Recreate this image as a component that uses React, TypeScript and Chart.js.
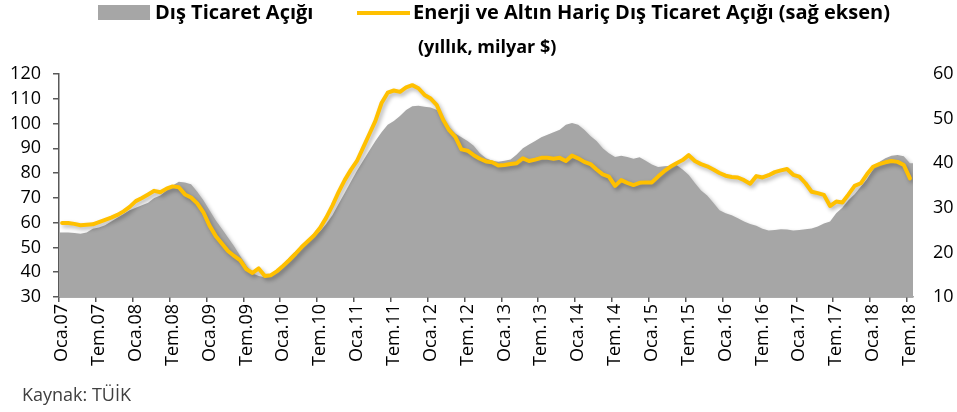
import React, { useEffect, useRef } from "react";
import { Chart, registerables } from "chart.js";

Chart.register(...registerables);

// Monthly data, Oca.07 (Jan 2007) .. Tem.18 (Jul 2018)
const MONTH_NAMES = ["Oca", "Şub", "Mar", "Nis", "May", "Haz", "Tem", "Ağu", "Eyl", "Eki", "Kas", "Ara"];
const START_YEAR = 2007;

// Dış Ticaret Açığı (left axis, yıllık milyar $)
const tradeDeficit = [
  56, 56, 55.8, 55.5, 56, 57.5, 58, 59, 60.5, 62, 63.5, 65,
  66, 67, 68, 70, 71, 73, 75, 76.5, 76.2, 75.5, 72.5, 69,
  65, 61, 57.5, 54, 50.5, 46.5, 42.5, 39.5, 38.5, 38, 38.5, 40.5,
  43, 46, 48.5, 51, 53, 54.5, 56.5, 59.5, 63, 67.5, 72, 76.5,
  81, 85, 89, 93, 96.5, 99.5, 101, 103, 105.5, 107, 107.2, 106.8,
  106.5, 105.5, 101.5, 98.5, 96, 94.5, 93, 91, 88, 86, 85, 84.6,
  85, 85.5, 87.5, 90, 91.5, 93, 94.5, 95.5, 96.5, 97.5, 99.5, 100.2,
  99.5, 97.5, 95, 93, 90, 88, 86.5, 87, 86.5, 85.8, 86.4, 85,
  83.5, 82.5, 82.8, 83, 83.3, 81.5, 79.2, 76, 73, 71, 68, 65,
  63.8, 63, 61.8, 60.5, 59.5, 58.8, 57.5, 56.8, 57, 57.3, 57.2, 56.8,
  57, 57.3, 57.6, 58.5, 59.7, 60.5, 63.8, 66, 69, 71.5, 74.5, 77.5,
  81.5, 84.5, 86, 87, 87.3, 86.8, 84,
];

// Enerji ve Altın Hariç Dış Ticaret Açığı (right axis)
const coreDeficit = [
  26.6, 26.6, 26.4, 26.1, 26.2, 26.3, 26.8, 27.3, 27.8, 28.4, 29.2, 30.2,
  31.5, 32.2, 33, 33.8, 33.5, 34.3, 34.8, 34.6, 33, 32.3, 31, 29,
  26, 23.7, 22, 20.3, 19.2, 18.2, 16.2, 15.4, 16.4, 14.7, 14.9, 15.8,
  17, 18.3, 19.7, 21.2, 22.5, 23.8, 25.5, 27.8, 30.5, 33.5, 36.2, 38.5,
  40.5, 43.5, 46.5, 49.5, 53.5, 55.8, 56.3, 56, 57, 57.5, 56.8, 55.3,
  54.5, 53, 49.8, 47.4, 45.9, 43.1, 42.8, 41.8, 41, 40.4, 40.2, 39.5,
  39.6, 39.8, 40, 41.1, 40.5, 40.8, 41.2, 41.2, 41, 41.2, 40.5, 41.7,
  41.1, 40.3, 39.8, 38.6, 37.5, 37, 34.9, 36.2, 35.6, 35.1, 35.6, 35.7,
  35.7, 37, 38.2, 39.2, 40, 40.7, 41.8, 40.5, 39.8, 39.3, 38.6, 37.8,
  37.2, 36.9, 36.8, 36.2, 35.4, 37.1, 36.8, 37.3, 38, 38.4, 38.7, 37.4,
  37, 35.5, 33.6, 33.3, 32.9, 30.4, 31.4, 31.2, 33, 34.9, 35.5, 37.5,
  39.2, 39.8, 40.2, 40.5, 40.3, 39.6, 36.6,
];

const categories = tradeDeficit.map(
  (_, i) => `${MONTH_NAMES[i % 12]}.${String((START_YEAR + Math.floor(i / 12)) % 100).padStart(2, "0")}`
);

const leftTicks = { min: 30, max: 120, step: 10 };
const rightTicks = { min: 10, max: 60, step: 10 };
const LABEL_EVERY = 6;

const GREY = "#a6a6a6";
const GOLD = "#ffc000";
const AXIS = "#595959";
const FONT = "'Open Sans', 'DejaVu Sans', sans-serif";

const shadowPlugin = {
  id: "softShadow",
  beforeDatasetsDraw(chart: any) {
    const ctx = chart.ctx;
    ctx.save();
    ctx.shadowColor = "rgba(0,0,0,0.3)";
    ctx.shadowBlur = 4;
    ctx.shadowOffsetX = 2;
    ctx.shadowOffsetY = 2.5;
  },
  afterDatasetsDraw(chart: any) {
    chart.ctx.restore();
  },
};

function ChartCanvas() {
  const ref = useRef<HTMLCanvasElement | null>(null);

  useEffect(() => {
    if (!ref.current) return;
    const n = categories.length;
    const areaPoints = [
      { x: -0.5, y: tradeDeficit[0] },
      ...tradeDeficit.map((v, i) => ({ x: i, y: v })),
      { x: n - 0.5, y: tradeDeficit[n - 1] },
    ];
    const linePoints = coreDeficit.map((v, i) => ({ x: i, y: v }));
    const tickFont = { family: FONT, size: 18 };

    const chart = new Chart(ref.current, {
      type: "line",
      data: {
        labels: categories,
        datasets: [
          {
            label: "Enerji ve Altın Hariç Dış Ticaret Açığı (sağ eksen)",
            data: linePoints as any,
            xAxisID: "xl",
            yAxisID: "y1",
            borderColor: GOLD,
            borderWidth: 4,
            pointRadius: 0,
            fill: false,
            tension: 0,
            borderJoinStyle: "round",
            borderCapStyle: "round",
          },
          {
            label: "Dış Ticaret Açığı",
            data: areaPoints as any,
            xAxisID: "xl",
            yAxisID: "y",
            borderWidth: 0,
            borderColor: GREY,
            backgroundColor: GREY,
            pointRadius: 0,
            fill: "start",
            tension: 0,
          },
        ],
      },
      options: {
        animation: false,
        responsive: false,
        maintainAspectRatio: false,
        devicePixelRatio: 1,
        layout: { padding: { top: 74, left: 0, right: 0, bottom: 0 } },
        plugins: {
          legend: { display: false },
          tooltip: { enabled: false },
          title: { display: false },
        },
        scales: {
          x: {
            type: "category",
            position: "bottom",
            offset: true,
            grid: {
              display: true,
              drawOnChartArea: false,
              drawTicks: true,
              tickLength: 5,
              offset: true,
              lineWidth: 1.5,
              color: (c: any) =>
                c.index !== undefined && c.index % LABEL_EVERY === 0 && c.index < n ? AXIS : "rgba(0,0,0,0)",
            },
            border: { display: true, color: AXIS, width: 1.5 },
            ticks: {
              autoSkip: false,
              maxRotation: 90,
              minRotation: 90,
              padding: 2,
              color: "#000",
              font: tickFont,
              callback: (_v: any, idx: number) => (idx % LABEL_EVERY === 0 ? categories[idx] : ""),
            },
            afterFit: (s: any) => {
              s.height = 115;
            },
          },
          xl: {
            type: "linear",
            display: false,
            min: -0.5,
            max: n - 0.5,
          },
          y: {
            position: "left",
            min: leftTicks.min,
            max: leftTicks.max,
            ticks: { stepSize: leftTicks.step, padding: 12, color: "#000", font: tickFont },
            grid: { drawOnChartArea: false, tickLength: 6, color: AXIS, lineWidth: 1.5 },
            border: { display: true, color: AXIS, width: 1.5 },
            afterFit: (s: any) => {
              s.width = 59;
            },
          },
          y1: {
            position: "right",
            min: rightTicks.min,
            max: rightTicks.max,
            ticks: { stepSize: rightTicks.step, padding: 20, color: "#000", font: tickFont },
            grid: { display: false, drawTicks: false },
            border: { display: false },
            afterFit: (s: any) => {
              s.width = 44;
            },
          },
        },
      },
      plugins: [shadowPlugin],
    });
    return () => chart.destroy();
  }, []);

  return (
    <canvas
      ref={ref}
      width={957}
      height={412}
      style={{ position: "absolute", left: 0, top: 0, width: 957, height: 412 }}
    />
  );
}

export default function App() {
  const txt: React.CSSProperties = {
    position: "absolute",
    whiteSpace: "nowrap",
    fontFamily: FONT,
    color: "#000",
  };
  return (
    <div style={{ position: "absolute", left: 0, top: 0, width: 957, height: 412, background: "#fff", overflow: "hidden" }}>
      <ChartCanvas />
      <div style={{ position: "absolute", left: 98, top: 5, width: 52, height: 15, background: GREY }} />
      <div style={{ ...txt, left: 155, top: 2, fontSize: 20, lineHeight: "20px", fontWeight: 700 }}>Dış Ticaret Açığı</div>
      <div style={{ position: "absolute", left: 357, top: 11, width: 53, height: 4, background: GOLD }} />
      <div style={{ ...txt, left: 413, top: 2, fontSize: 20, lineHeight: "20px", fontWeight: 700 }}>
        Enerji ve Altın Hariç Dış Ticaret Açığı (sağ eksen)
      </div>
      <div style={{ ...txt, left: 418, top: 37, fontSize: 18, lineHeight: "18px", fontWeight: 700 }}>(yıllık, milyar $)</div>
      <div style={{ ...txt, left: 22, top: 385, fontSize: 18, lineHeight: "18px", color: "#404040" }}>Kaynak: TÜİK</div>
    </div>
  );
}
